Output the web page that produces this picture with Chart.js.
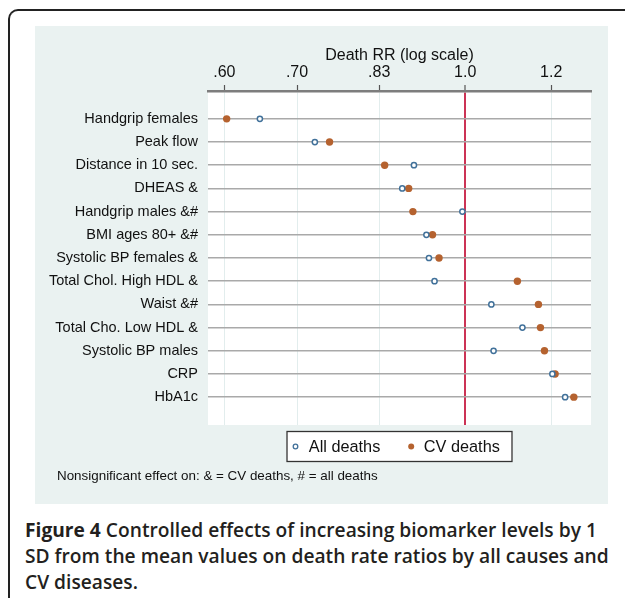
<!DOCTYPE html>
<html><head><meta charset="utf-8">
<script src="https://cdn.jsdelivr.net/npm/chart.js@4"></script>
<style>
html,body{margin:0;padding:0;background:#fff;width:625px;height:598px;overflow:hidden;position:relative;}
#frame{position:absolute;left:8px;top:9px;width:660px;height:640px;border-top:2px solid #222;border-left:2px solid #222;border-top-left-radius:10px;box-sizing:border-box;}
#panel{position:absolute;left:35px;top:26px;width:573px;height:478px;background:#eaf2f1;}
#cv{position:absolute;left:0;top:0;}
#caption{position:absolute;left:25px;top:517px;font-family:'Open Sans',sans-serif;font-weight:600;font-size:19.2px;line-height:26px;color:#231f20;white-space:nowrap;}
#caption b{font-weight:700;}
</style></head><body>
<div id="frame"></div>
<div id="panel"><canvas id="cv" width="573" height="478" style="width:573px;height:478px"></canvas></div>
<div id="caption"><b>Figure 4</b> Controlled effects of increasing biomarker levels by 1<br>SD from the mean values on death rate ratios by all causes and<br>CV diseases.</div>
<script>
const categories = ['Handgrip females','Peak flow','Distance in 10 sec.','DHEAS &','Handgrip males &#','BMI ages 80+ &#','Systolic BP females &','Total Chol. High HDL &','Waist &#','Total Cho. Low HDL &','Systolic BP males','CRP','HbA1c'];
const allDeaths = [0.647,0.727,0.897,0.875,0.994,0.921,0.926,0.937,1.057,1.129,1.062,1.203,1.236];
const cvDeaths  = [0.603,0.750,0.843,0.887,0.895,0.933,0.946,1.117,1.168,1.173,1.183,1.210,1.259];
const tickValues = [0.6,0.7,0.8333,1.0,1.2];
const tickLabels = ['.60','.70','.83','1.0','1.2'];
const refValue = 1.0;
const axisTitle = 'Death RR (log scale)';
const noteText = 'Nonsignificant effect on: & = CV deaths, # = all deaths';
const seriesNames = ['All deaths','CV deaths'];

const FONT = '"Liberation Sans", Arial, Helvetica, sans-serif';
const COL_ALL = '#41719a', COL_CV = '#b5622f', COL_REF = '#cc3355';

const decor = {
  id:'decor',
  beforeDraw(chart){
    const a = chart.chartArea, c = chart.ctx;
    c.save(); c.fillStyle = '#fff';
    c.fillRect(a.left, a.top, a.right - a.left, a.bottom - a.top);
    c.restore();
  },
  afterDraw(chart){
    const a = chart.chartArea, c = chart.ctx;
    c.save();
    const cx = (a.left + a.right) / 2;
    const bw = 226, bh = 31;
    const bx = cx - bw / 2, by = a.bottom + 6;
    c.fillStyle = '#fff'; c.fillRect(bx, by, bw, bh);
    c.strokeStyle = '#333'; c.lineWidth = 1.3; c.strokeRect(bx + 0.5, by + 0.5, bw - 1, bh - 1);
    const my = by + bh / 2;
    c.beginPath(); c.arc(bx + 9, my, 2.3, 0, Math.PI * 2);
    c.fillStyle = '#fff'; c.fill(); c.strokeStyle = COL_ALL; c.lineWidth = 1.3; c.stroke();
    c.beginPath(); c.arc(bx + 124.7, my, 3, 0, Math.PI * 2);
    c.fillStyle = COL_CV; c.fill();
    c.fillStyle = '#111'; c.font = '16.3px ' + FONT; c.textBaseline = 'middle'; c.textAlign = 'left';
    c.fillText(seriesNames[0], bx + 22.3, my + 1);
    c.fillText(seriesNames[1], bx + 137.3, my + 1);
    c.font = '13.4px ' + FONT;
    c.fillText(noteText, 22, 450);
    c.restore();
  }
};

new Chart(document.getElementById('cv'), {
  type: 'scatter',
  data: {
    datasets: [
      { label: seriesNames[0], data: allDeaths.map((v, i) => ({x: v, y: i})),
        pointRadius: 2.6, pointHoverRadius: 2.6, pointBackgroundColor: '#fff', pointBorderColor: COL_ALL, pointBorderWidth: 1.5 },
      { label: seriesNames[1], data: cvDeaths.map((v, i) => ({x: v, y: i})),
        pointRadius: 3.7, pointHoverRadius: 3.7, pointBackgroundColor: COL_CV, pointBorderColor: COL_CV, pointBorderWidth: 0 }
    ]
  },
  options: {
    responsive: false, animation: false, events: [],
    layout: { padding: { left: 0, right: 17, top: 0, bottom: 79 } },
    plugins: { legend: { display: false }, tooltip: { enabled: false } },
    scales: {
      x: {
        type: 'logarithmic', position: 'top', min: 0.5796, max: 1.3057,
        afterBuildTicks: s => { s.ticks = tickValues.map(v => ({value: v})); },
        afterFit: s => { s.height = 65; },
        ticks: { callback: (v, i) => tickLabels[i], font: { family: FONT, size: 16 }, color: '#111', padding: 3, maxRotation: 0, autoSkip: false },
        grid: {
          color: ctx => (ctx.tick && ctx.tick.value === refValue) ? COL_REF : '#e2eded',
          lineWidth: ctx => (ctx.tick && ctx.tick.value === refValue) ? 2 : 1,
          tickColor: '#555', tickLength: 6, tickWidth: 1.2
        },
        border: { color: '#7d7d7d', width: 2.5 },
        title: { display: true, text: axisTitle, font: { family: FONT, size: 16 }, color: '#111', padding: { top: 20, bottom: 0 } }
      },
      y: {
        type: 'linear', reverse: true, min: -1.2, max: 13.2, z: -1,
        afterBuildTicks: s => { s.ticks = categories.map((c, i) => ({value: i})); },
        afterFit: s => { s.width = 173; },
        ticks: { callback: v => categories[v], font: { family: FONT, size: 14.5 }, color: '#111', padding: 10, autoSkip: false },
        grid: { color: '#a9a9a9', lineWidth: 1.5, drawTicks: false },
        border: { display: false }
      }
    }
  },
  plugins: [decor]
});
</script>
</body></html>
